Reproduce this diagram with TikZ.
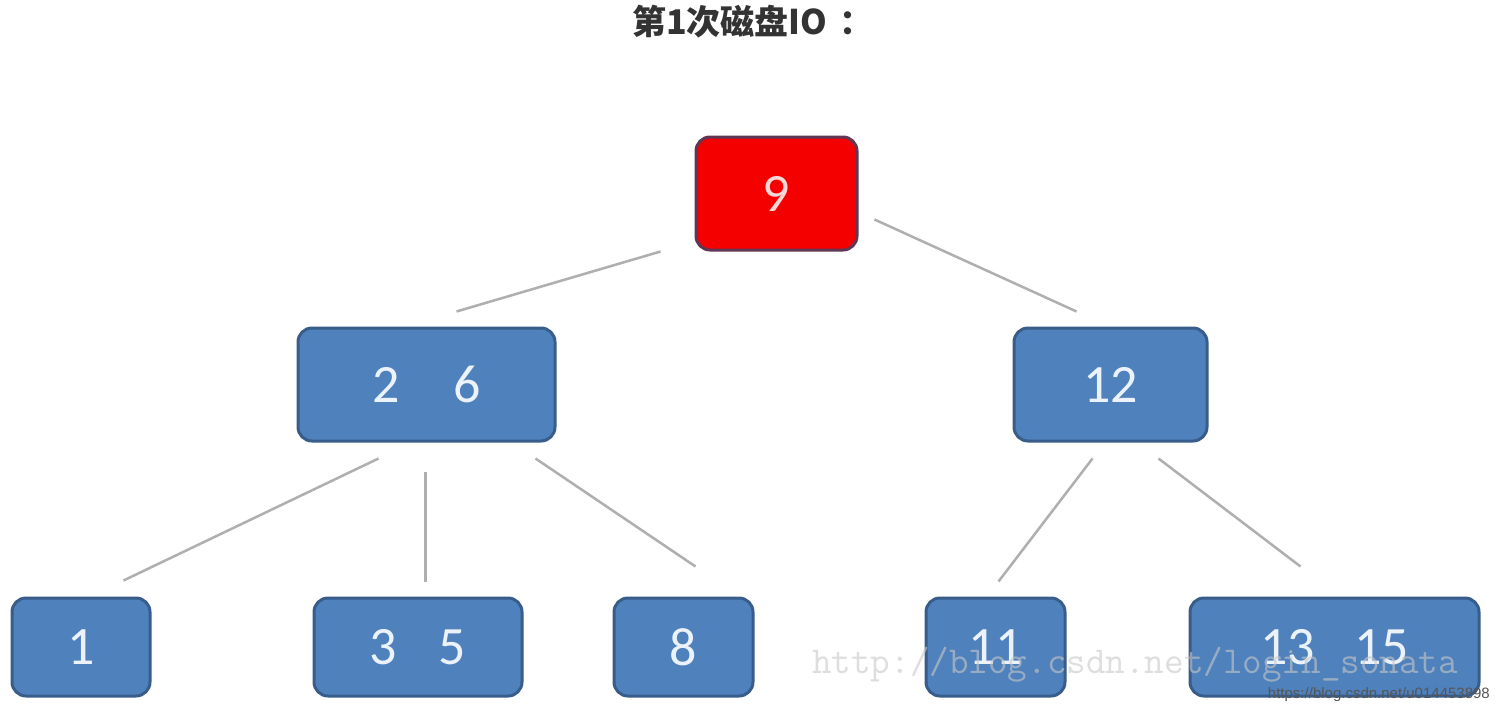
\documentclass[tikz,border=0pt]{standalone}
\usepackage{fontspec}
\setmainfont{Carlito}
\newfontfamily\cjkfont{Noto Sans CJK SC}
\newfontfamily\wmsans{Liberation Sans}
\definecolor{boxblue}{RGB}{79,129,189}
\definecolor{boxborder}{RGB}{56,93,138}
\definecolor{rootred}{RGB}{245,0,0}
\definecolor{rootborder}{RGB}{95,55,85}
\definecolor{edgegray}{RGB}{175,175,175}
\definecolor{digit}{RGB}{235,242,250}
\definecolor{titlegray}{RGB}{51,51,51}
\definecolor{wmgray}{RGB}{200,200,200}
\begin{document}
\begin{tikzpicture}[x=1pt,y=-1pt,
  keybox/.style={draw=boxborder, fill=boxblue, line width=3pt, rounded corners=14pt,
    text=digit, font=\fontsize{54}{54}\selectfont, inner sep=0pt, anchor=center},
  rootbox/.style={keybox, fill=rootred, draw=rootborder, text={rgb,255:red,250;green,215;blue,215}},
  edge/.style={draw=edgegray, line width=2.5pt}]
\useasboundingbox (0,0) rectangle (1498,712);
\fill[white] (0,0) rectangle (1498,712);

\node[anchor=west, inner sep=0pt, font=\cjkfont\bfseries\fontsize{34}{34}\selectfont, text=titlegray] (title) at (632,22) {第1次磁盘IO\hspace{12pt}：};

\node[rootbox, minimum width=161pt, minimum height=113pt] (r) at (776.5,193.5) {9};
\node[keybox, minimum width=257pt, minimum height=113pt] (n26) at (426.5,384.5) {2\hspace{54pt}6};
\node[keybox, minimum width=193pt, minimum height=113pt] (n12) at (1110.5,384.5) {12};
\node[keybox, minimum width=138pt, minimum height=98pt] (n1) at (81,647) {1};
\node[keybox, minimum width=208pt, minimum height=98pt] (n35) at (418,647) {3\hspace{42pt}5};
\node[keybox, minimum width=139pt, minimum height=98pt] (n8) at (683.5,647) {8};
\node[keybox, minimum width=139pt, minimum height=98pt] (n11) at (995.5,647) {11};
\node[keybox, minimum width=289pt, minimum height=98pt] (n1315) at (1334.5,647) {13\hspace{39pt}15};

\draw[edge] ([shift={(-34,0)}]r.south west) -- ([shift={(160,-15)}]n26.north west);
\draw[edge] ([shift={(16,-32)}]r.south east) -- ([shift={(64,-15)}]n12.north west);
\draw[edge] ([shift={(82,16)}]n26.south west) -- ([shift={(113,-16)}]n1.north west);
\draw[edge] ([shift={(129,29)}]n26.south west) -- ([shift={(113,-15)}]n35.north west);
\draw[edge] ([shift={(239,16)}]n26.south west) -- ([shift={(83,-30)}]n8.north west);
\draw[edge] ([shift={(80,16)}]n12.south west) -- ([shift={(74,-15)}]n11.north west);
\draw[edge] ([shift={(146,16)}]n12.south west) -- ([shift={(112,-30)}]n1315.north west);

\node[anchor=base west, inner sep=0pt, font=\ttfamily\fontsize{38}{38}\selectfont, text=wmgray, text opacity=0.6] (wm1) at (812,673) {http://blog.csdn.net/login\_sonata};
\node[anchor=base east, inner sep=0pt, font=\wmsans\fontsize{15}{15}\selectfont, text={rgb,255:red,85;green,85;blue,85}] (wm2) at (1490,698) {https://blog.csdn.net/u014453898};
\end{tikzpicture}
\end{document}
